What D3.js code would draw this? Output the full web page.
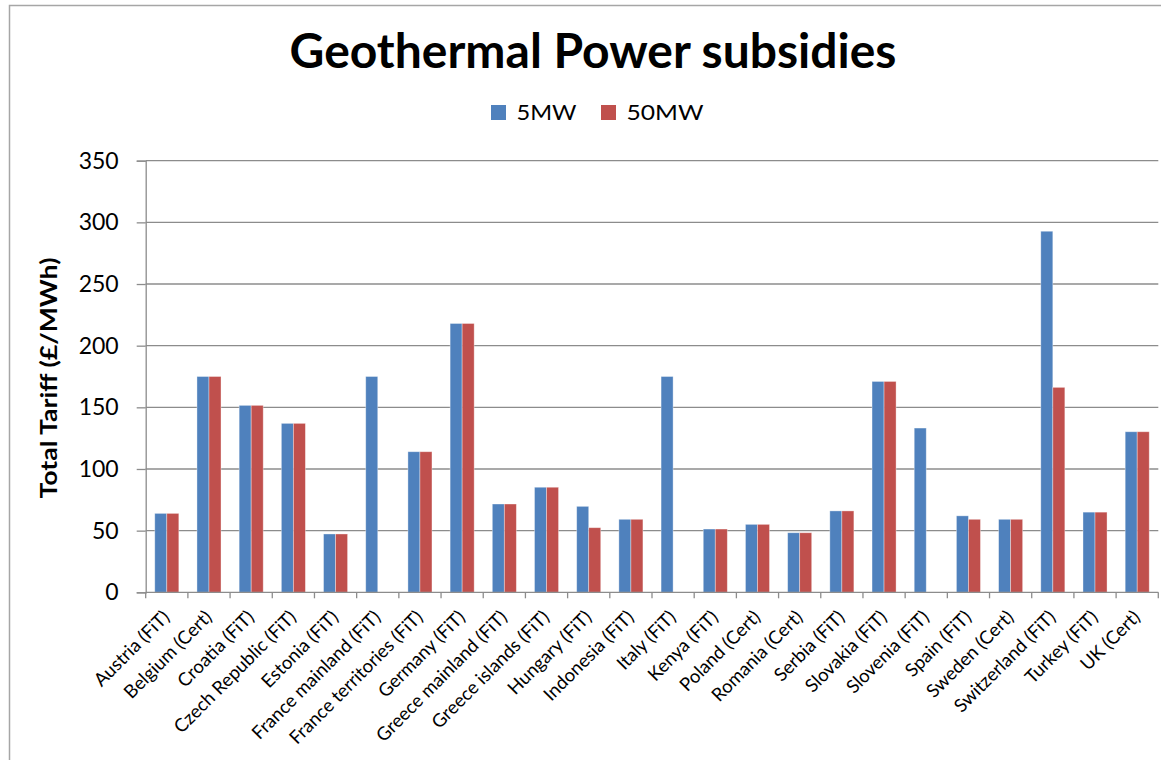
<!DOCTYPE html>
<html>
<head>
<meta charset="utf-8">
<script src="https://cdn.jsdelivr.net/npm/d3@7"></script>
<style>
  html, body { margin: 0; padding: 0; background: #fff; }
  svg { display: block; font-family: Lato, "Open Sans", sans-serif; }
</style>
</head>
<body>
<svg id="chart" width="1161" height="760"></svg>
<script>
// Categories (tariff scheme in brackets)
const categories = [
  "Austria (FiT)", "Belgium (Cert)", "Croatia (FiT)", "Czech Republic (FiT)",
  "Estonia (FiT)", "France mainland (FiT)", "France territories (FiT)", "Germany (FiT)",
  "Greece mainland (FiT)", "Greece islands (FiT)", "Hungary  (FiT)", "Indonesia (FiT)",
  "Italy (FiT)", "Kenya (FiT)", "Poland (Cert)", "Romania (Cert)", "Serbia (FiT)",
  "Slovakia (FiT)", "Slovenia (FiT)", "Spain (FiT)", "Sweden (Cert)",
  "Switzerland (FiT)", "Turkey (FiT)", "UK (Cert)"
];

// Total tariff, £/MWh (null = no 50MW tariff)
const values5MW = [
  64, 175, 151.6, 137, 47.3, 175, 114, 218, 71.6, 85.2, 69.7, 59.2,
  175, 51.3, 55.1, 48.3, 66, 171, 133.2, 62, 59.2, 292.8, 65, 130.2
];
const values50MW = [
  64, 175, 151.6, 137, 47.3, null, 114, 218, 71.6, 85.2, 52.4, 59.2,
  null, 51.3, 55.1, 48.3, 66, 171, null, 59.2, 59.2, 166.2, 65, 130.2
];

const seriesNames = ["5MW", "50MW"];
const seriesColors = ["#4f81bd", "#c0504d"];
const yTicks = [0, 50, 100, 150, 200, 250, 300, 350];

const svg = d3.select("#chart");
const W = 1161, H = 760;
const axisGrey = "#8c8c8c";

// chart frame
svg.append("rect")
  .attr("x", 9.5).attr("y", 5.5)
  .attr("width", W + 20).attr("height", H + 20)
  .attr("fill", "#fff").attr("stroke", "#a6a6a6").attr("stroke-width", 1.5);

const plot = { left: 145.7, right: 1158.3, top: 160.7, bottom: 592.3 };

const x = d3.scaleBand()
  .domain(categories)
  .range([plot.left, plot.right])
  .paddingInner(0.43)
  .paddingOuter(0.215);

const xSub = d3.scaleBand()
  .domain(seriesNames)
  .range([0, x.bandwidth()]);

const y = d3.scaleLinear()
  .domain([0, 350])
  .range([plot.bottom, plot.top]);

// horizontal gridlines
svg.append("g")
  .selectAll("line")
  .data(yTicks.slice(1))
  .join("line")
  .attr("x1", plot.left).attr("x2", plot.right)
  .attr("y1", d => y(d)).attr("y2", d => y(d))
  .attr("stroke", axisGrey).attr("stroke-width", 1.3);

// bars
const series = [values5MW, values50MW];
const groups = svg.append("g")
  .selectAll("g")
  .data(categories)
  .join("g")
  .attr("transform", d => `translate(${x(d)},0)`);

groups.selectAll("rect")
  .data((c, i) => seriesNames.map((s, k) => ({ s, k, v: series[k][i] })).filter(d => d.v != null))
  .join("rect")
  .attr("x", d => xSub(d.s))
  .attr("width", xSub.bandwidth())
  .attr("y", d => y(d.v))
  .attr("height", d => y(0) - y(d.v))
  .attr("fill", d => seriesColors[d.k])
  .attr("stroke", "rgba(255,255,255,0.45)")
  .attr("stroke-width", 0.8);

// y axis
const yAxis = d3.axisLeft(y)
  .tickValues(yTicks)
  .tickSize(9)
  .tickPadding(18);
const gy = svg.append("g")
  .attr("transform", `translate(${plot.left},0)`)
  .call(yAxis);
gy.select(".domain").attr("stroke", axisGrey).attr("stroke-width", 1.3);
gy.selectAll(".tick line").attr("stroke", axisGrey).attr("stroke-width", 1.3);
gy.selectAll(".tick text")
  .attr("font-family", "Lato, 'Open Sans', sans-serif")
  .attr("font-size", 23)
  .attr("fill", "#000");

// x axis with ticks at category boundaries
const gx = svg.append("g")
  .attr("transform", `translate(0,${plot.bottom})`);
gx.append("line")
  .attr("x1", plot.left).attr("x2", plot.right)
  .attr("stroke", axisGrey).attr("stroke-width", 1.3);
const boundaries = d3.range(categories.length + 1)
  .map(i => plot.left + i * (plot.right - plot.left) / categories.length);
gx.selectAll("line.tk")
  .data(boundaries)
  .join("line")
  .attr("class", "tk")
  .attr("x1", d => d).attr("x2", d => d)
  .attr("y1", 0).attr("y2", 6)
  .attr("stroke", axisGrey).attr("stroke-width", 1.3);

gx.selectAll("text")
  .data(categories)
  .join("text")
  .attr("transform", d => `translate(${x(d) + x.bandwidth() / 2 + 4},${26}) rotate(-45)`)
  .attr("text-anchor", "end")
  .attr("font-size", 18.5)
  .attr("fill", "#000")
  .text(d => d);

// title
svg.append("text")
  .attr("x", 593).attr("y", 68)
  .attr("text-anchor", "middle")
  .attr("font-weight", "bold")
  .attr("font-size", 48)
  .attr("fill", "#000")
  .text("Geothermal Power subsidies");

// legend
const legendX = [491, 601];
const legendW = [60, 77];
seriesNames.forEach((s, k) => {
  const g = svg.append("g").attr("transform", `translate(${legendX[k]},105)`);
  g.append("rect").attr("width", 15).attr("height", 15).attr("fill", seriesColors[k]);
  g.append("text").attr("x", 25.5).attr("y", 15).attr("font-size", 22)
    .attr("textLength", legendW[k]).attr("lengthAdjust", "spacingAndGlyphs")
    .attr("fill", "#000").text(s);
});

// y axis title
svg.append("text")
  .attr("transform", `translate(57,378) rotate(-90)`)
  .attr("text-anchor", "middle")
  .attr("font-weight", "bold")
  .attr("font-size", 22)
  .attr("textLength", 241)
  .attr("lengthAdjust", "spacingAndGlyphs")
  .attr("fill", "#000")
  .text("Total Tariff (£/MWh)");
</script>
</body>
</html>
